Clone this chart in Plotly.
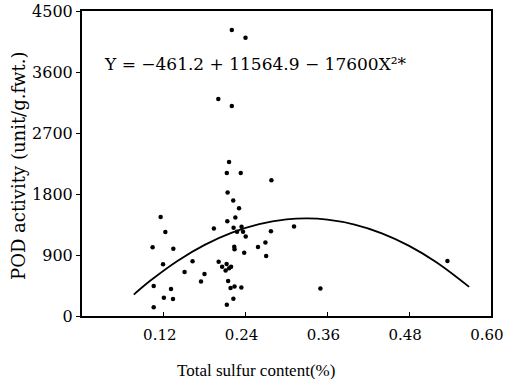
import plotly.graph_objects as go

# Scatter data: total sulfur content (%) vs POD activity (unit/g.fwt.)
sulfur = [0.1154, 0.1223, 0.1036, 0.1340, 0.1189, 0.1622, 0.1505, 0.1797, 0.1746, 0.1052,
          0.1306, 0.1201, 0.1335, 0.1052, 0.2158, 0.2125, 0.2329, 0.2779, 0.2136, 0.2219,
          0.2304, 0.2250, 0.2132, 0.1935, 0.2224, 0.2275, 0.2341, 0.2363, 0.2772, 0.2402,
          0.2234, 0.2238, 0.2582, 0.2691, 0.2380, 0.2702, 0.2005, 0.2056, 0.2122, 0.2158,
          0.2107, 0.2187, 0.2144, 0.2238, 0.2180, 0.2338, 0.2221, 0.2125, 0.2198, 0.2399,
          0.2000, 0.2198, 0.3111, 0.3498, 0.5362]
pod = [1462, 1240, 1013, 994, 762, 809, 651, 621, 510, 444,
       397, 271, 249, 130, 2271, 2108, 2108, 2002, 1823, 1704,
       1590, 1453, 1398, 1290, 1302, 1243, 1317, 1243, 1250, 1172,
       1021, 984, 1018, 1083, 932, 885, 799, 725, 769, 703,
       673, 725, 518, 436, 414, 422, 254, 166, 4220, 4106,
       3203, 3100, 1321, 407, 811]

# Fitted curve
curve_x = [0.076, 0.10, 0.14, 0.18, 0.22, 0.26, 0.30, 0.33, 0.36, 0.40, 0.44, 0.48, 0.52, 0.568]
curve_y = [316, 519, 813, 1050, 1231, 1356, 1424, 1439, 1421, 1349, 1220, 1035, 793, 430]

x_ticks = [0.12, 0.24, 0.36, 0.48, 0.60]
x_ticktext = ["0.12", "0.24", "0.36", "0.48", "0.60"]
y_ticks = [0, 900, 1800, 2700, 3600, 4500]

equation = "Y = \u2212461.2 + 11564.9 \u2212 17600X\u00b2*"
x_title = "Total sulfur content(%)"
y_title = "POD activity (unit/g.fwt.)"

SERIF = "DejaVu Serif"
TIMES = "Liberation Serif"

fig = go.Figure()
fig.add_trace(go.Scatter(x=curve_x, y=curve_y, mode="lines", line=dict(color="black", width=1.8, shape="spline"),
                         hoverinfo="skip", showlegend=False))
fig.add_trace(go.Scatter(x=sulfur, y=pod, mode="markers", marker=dict(color="black", size=4.5),
                         showlegend=False))

fig.update_xaxes(range=[0, 0.6001], tickvals=x_ticks, ticktext=x_ticktext, ticks="inside", ticklen=4,
                 tickcolor="black", showline=True, linecolor="black", linewidth=2, mirror=True,
                 showgrid=False, zeroline=False, automargin=False, ticklabeloverflow="allow",
                 ticklabelshift=-4, ticklabelstandoff=4,
                 tickfont=dict(family=SERIF, size=15, color="black"))
fig.update_yaxes(range=[0, 4500], tickvals=y_ticks, ticks="outside", ticklen=4, tickcolor="black",
                 showline=True, linecolor="black", linewidth=2, mirror=True, showgrid=False,
                 zeroline=False, automargin=False, ticklabeloverflow="allow",
                 tickfont=dict(family=SERIF, size=16, color="black"))

fig.add_annotation(x=0.0293, y=3718, xref="x", yref="y", text=equation, showarrow=False,
                   xanchor="left", yanchor="middle", font=dict(family=SERIF, size=17, color="black"))
fig.add_annotation(x=0.425, y=-0.18, xref="paper", yref="paper", text=x_title, showarrow=False,
                   xanchor="center", yanchor="middle", font=dict(family=TIMES, size=17, color="black"))
fig.add_annotation(x=-0.154, y=0.492, xref="paper", yref="paper", text=y_title, showarrow=False,
                   textangle=-90, xanchor="center", yanchor="middle",
                   font=dict(family=SERIF, size=18, color="black"))

fig.update_layout(width=505, height=379, margin=dict(l=82, r=14, t=11, b=63),
                  paper_bgcolor="white", plot_bgcolor="white")

fig.write_html("out.html")
